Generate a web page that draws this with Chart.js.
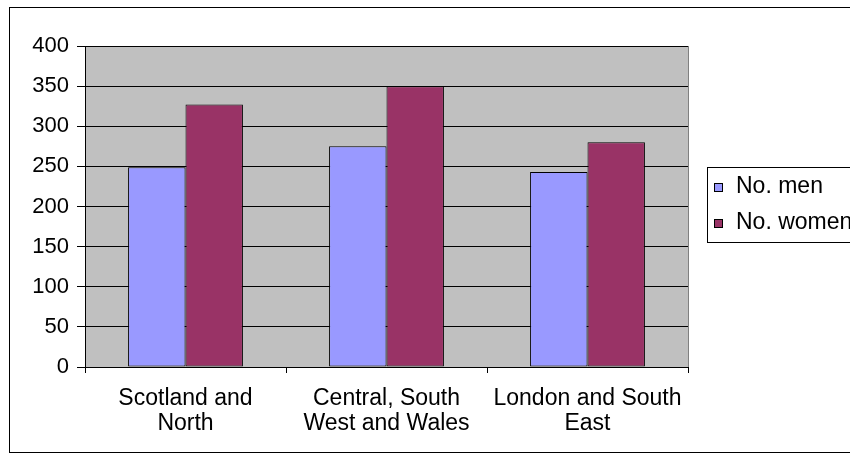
<!DOCTYPE html>
<html>
<head>
<meta charset="utf-8">
<script src="https://cdn.jsdelivr.net/npm/chart.js@4/dist/chart.umd.min.js"></script>
<style>
  html, body { margin: 0; padding: 0; background: #fff; }
  #wrap { width: 850px; height: 463px; }
</style>
</head>
<body>
<div id="wrap"><canvas id="chart" width="850" height="463"></canvas></div>
<script>
var regions = [['Scotland and', 'North'], ['Central, South', 'West and Wales'], ['London and South', 'East']];
var menCounts = [249, 275, 243];
var womenCounts = [327, 350, 280];
var seriesNames = ['No. men', 'No. women'];
var yTicks = [0, 50, 100, 150, 200, 250, 300, 350, 400];

var FONT = 'Liberation Sans, Arial, sans-serif';

// excel style frame, plot background and legend box
var excelLook = {
    id: 'excelLook',
    beforeDraw: function (chart) {
        var ctx = chart.ctx, a = chart.chartArea;
        ctx.save();
        ctx.fillStyle = '#fff';
        ctx.fillRect(0, 0, chart.width, chart.height);
        ctx.fillStyle = '#C0C0C0';
        ctx.fillRect(a.left, a.top, a.right - a.left, a.bottom - a.top);
        ctx.strokeStyle = '#808080';
        ctx.lineWidth = 1;
        ctx.strokeRect(Math.round(a.left) + 0.5, Math.round(a.top) + 0.5,
            Math.round(a.right - a.left), Math.round(a.bottom - a.top));
        ctx.restore();
    },
    afterDraw: function (chart) {
        var ctx = chart.ctx;
        ctx.save();
        ctx.strokeStyle = '#000';
        ctx.lineWidth = 1;
        ctx.strokeRect(9.5, 7.5, 900, 445);

        // legend
        ctx.strokeRect(707.5, 167.5, 200, 75);
        ctx.font = '23px ' + FONT;
        ctx.textBaseline = 'middle';
        chart.data.datasets.forEach(function (ds, i) {
            var y = 187 + i * 36;
            ctx.fillStyle = ds.backgroundColor;
            ctx.fillRect(714, y - 4, 9, 9);
            ctx.strokeRect(714.5, y - 3.5, 8, 8);
            ctx.fillStyle = '#000';
            ctx.fillText(ds.label, 736, y);
        });
        ctx.restore();
    }
};

new Chart('chart', {
    type: 'bar',
    data: {
        labels: regions,
        datasets: [
            {
                label: seriesNames[0],
                data: menCounts,
                backgroundColor: '#9999FF',
                borderColor: '#000',
                borderWidth: 1,
                borderSkipped: false
            },
            {
                label: seriesNames[1],
                data: womenCounts,
                backgroundColor: '#993366',
                borderColor: '#000',
                borderWidth: 1,
                borderSkipped: false
            }
        ]
    },
    options: {
        responsive: false,
        animation: false,
        layout: { padding: { top: 46, right: 162, left: 0, bottom: 0 } },
        plugins: {
            legend: { display: false },
            tooltip: { enabled: false }
        },
        datasets: {
            bar: { categoryPercentage: 2 / 3.5, barPercentage: 1 }
        },
        scales: {
            x: {
                grid: {
                    display: true,
                    offset: true,
                    drawOnChartArea: false,
                    drawTicks: true,
                    tickLength: 6,
                    color: '#000'
                },
                border: { color: '#000' },
                ticks: {
                    color: '#000',
                    padding: 13,
                    maxRotation: 0,
                    font: { family: FONT, size: 23, lineHeight: 1.08 }
                },
                afterFit: function (scale) { scale.height = 96; }
            },
            y: {
                min: 0,
                max: 400,
                afterBuildTicks: function (scale) {
                    scale.ticks = yTicks.map(function (v) { return { value: v }; });
                },
                grid: {
                    color: '#000',
                    tickLength: 8
                },
                border: { color: '#000' },
                ticks: {
                    color: '#000',
                    padding: 8,
                    font: { family: FONT, size: 22 }
                },
                afterFit: function (scale) { scale.width = 85; }
            }
        }
    },
    plugins: [excelLook]
});
</script>
</body>
</html>
